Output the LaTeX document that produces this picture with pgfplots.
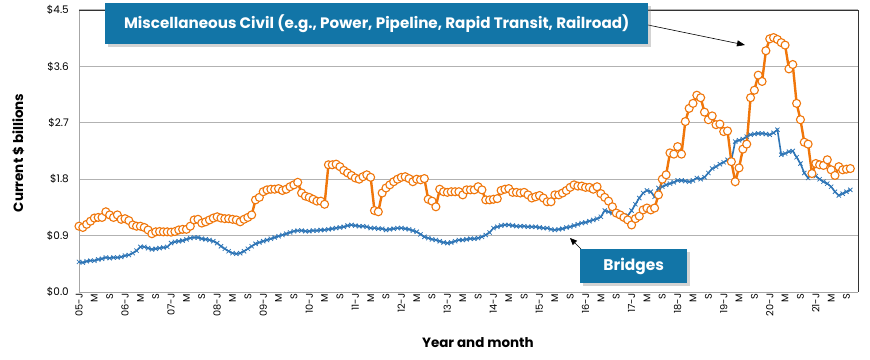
\documentclass[border=0pt]{standalone}
\usepackage{fontspec}
\setmainfont{Poppins}
\usepackage{pgfplots}
\pgfplotsset{compat=1.18}
\usepackage{pgfplotstable}
\usetikzlibrary{arrows.meta,shadows}
\definecolor{calloutblue}{RGB}{18,117,167}
\definecolor{orangeC}{RGB}{240,118,10}
\definecolor{blueC}{RGB}{46,117,182}

\pgfplotstableread{
m b o
0 0.48 1.05
1 0.47 1.03
2 0.49 1.08
3 0.50 1.13
4 0.50 1.18
5 0.52 1.19
6 0.53 1.19
7 0.55 1.28
8 0.54 1.23
9 0.55 1.19
10 0.55 1.23
11 0.56 1.16
12 0.58 1.17
13 0.59 1.14
14 0.62 1.07
15 0.66 1.05
16 0.72 1.05
17 0.72 1.03
18 0.70 0.99
19 0.68 0.93
20 0.69 0.96
21 0.70 0.965
22 0.71 0.96
23 0.72 0.96
24 0.78 0.955
25 0.80 0.965
26 0.81 0.99
27 0.82 1.00
28 0.84 1.00
29 0.86 1.05
30 0.87 1.15
31 0.87 1.16
32 0.85 1.10
33 0.84 1.12
34 0.83 1.15
35 0.81 1.18
36 0.78 1.20
37 0.73 1.18
38 0.69 1.17
39 0.65 1.17
40 0.62 1.16
41 0.61 1.15
42 0.62 1.12
43 0.65 1.16
44 0.69 1.19
45 0.73 1.23
46 0.77 1.47
47 0.79 1.51
48 0.81 1.60
49 0.83 1.63
50 0.85 1.64
51 0.87 1.64
52 0.89 1.65
53 0.91 1.62
54 0.93 1.64
55 0.95 1.68
56 0.97 1.71
57 0.98 1.75
58 0.98 1.58
59 0.97 1.53
60 0.97 1.51
61 0.98 1.48
62 0.98 1.45
63 0.99 1.45
64 0.99 1.40
65 1.00 2.03
66 1.01 2.03
67 1.02 2.04
68 1.03 2.00
69 1.04 1.94
70 1.06 1.90
71 1.07 1.86
72 1.06 1.82
73 1.05 1.80
74 1.05 1.84
75 1.04 1.87
76 1.02 1.83
77 1.02 1.30
78 1.01 1.28
79 1.01 1.58
80 0.99 1.66
81 1.00 1.71
82 1.01 1.76
83 1.02 1.80
84 1.02 1.83
85 1.01 1.84
86 1.00 1.81
87 0.98 1.76
88 0.96 1.80
89 0.92 1.79
90 0.88 1.81
91 0.86 1.48
92 0.84 1.45
93 0.83 1.36
94 0.81 1.64
95 0.79 1.60
96 0.78 1.59
97 0.79 1.60
98 0.81 1.60
99 0.83 1.60
100 0.83 1.55
101 0.84 1.63
102 0.85 1.63
103 0.85 1.63
104 0.86 1.68
105 0.88 1.63
106 0.91 1.47
107 0.95 1.47
108 1.02 1.48
109 1.04 1.49
110 1.06 1.62
111 1.07 1.64
112 1.07 1.65
113 1.06 1.59
114 1.05 1.59
115 1.05 1.58
116 1.05 1.59
117 1.04 1.55
118 1.04 1.50
119 1.04 1.52
120 1.03 1.54
121 1.02 1.50
122 1.02 1.44
123 1.00 1.44
124 0.99 1.55
125 1.00 1.55
126 1.01 1.58
127 1.03 1.62
128 1.04 1.67
129 1.06 1.71
130 1.08 1.69
131 1.10 1.69
132 1.11 1.67
133 1.13 1.67
134 1.15 1.64
135 1.17 1.68
136 1.20 1.57
137 1.30 1.51
138 1.28 1.45
139 1.26 1.36
140 1.24 1.26
141 1.22 1.23
142 1.21 1.19
143 1.22 1.15
144 1.30 1.07
145 1.40 1.17
146 1.50 1.21
147 1.58 1.31
148 1.62 1.34
149 1.60 1.31
150 1.52 1.34
151 1.66 1.55
152 1.68 1.80
153 1.71 1.87
154 1.73 2.22
155 1.75 2.20
156 1.78 2.32
157 1.78 2.20
158 1.77 2.72
159 1.76 2.93
160 1.78 3.01
161 1.82 3.14
162 1.80 3.10
163 1.83 2.87
164 1.90 2.75
165 1.97 2.81
166 2.00 2.67
167 2.04 2.68
168 2.07 2.56
169 2.11 2.57
170 2.10 2.08
171 2.40 1.76
172 2.42 1.98
173 2.44 2.28
174 2.48 2.36
175 2.51 3.10
176 2.52 3.22
177 2.53 3.46
178 2.53 3.36
179 2.52 3.85
180 2.51 4.04
181 2.54 4.06
182 2.59 4.03
183 2.19 3.98
184 2.21 3.94
185 2.24 3.56
186 2.25 3.63
187 2.15 3.01
188 2.05 2.75
189 1.90 2.39
190 1.82 2.36
191 1.90 1.89
192 1.85 2.05
193 1.80 2.03
194 1.76 2.02
195 1.73 2.11
196 1.68 1.95
197 1.60 1.86
198 1.54 2.00
199 1.57 1.95
200 1.60 1.96
201 1.63 1.97
}\datatable

\begin{document}
\begin{tikzpicture}
\useasboundingbox (-79bp,-68bp) rectangle (791bp,292bp);
\begin{axis}[
  at={(0,0)}, anchor=south west,
  scale only axis, width=779bp, height=282bp,
  xmin=0, xmax=203, ymin=0, ymax=4.5,
  axis x line*=bottom, axis y line*=left,
  axis line style={draw=black!35, line width=0.9bp},
  xtick={0,4,...,200},
  xticklabels={05-J,M,S,06-J,M,S,07-J,M,S,08-J,M,S,09-J,M,S,10-J,M,S,11-J,M,S,12-J,M,S,13-J,M,S,14-J,M,S,15-J,M,S,16-J,M,S,17-J,M,S,18-J,M,S,19-J,M,S,20-J,M,S,21-J,M,S},
  ytick={0,0.9,1.8,2.7,3.6,4.5},
  yticklabels={\$0.0,\$0.9,\$1.8,\$2.7,\$3.6,\$4.5},
  major tick length=0pt,
  ymajorgrids, grid style={draw=black!30, line width=1bp},
  x tick label style={rotate=90, anchor=east, font=\fontsize{9.8}{10}\selectfont, inner sep=1.5bp},
  y tick label style={font=\fontsize{10.5}{12}\selectfont, inner sep=2bp, xshift=-8bp},
  xlabel={Year and month},
  ylabel={Current \$ billions},
  xlabel style={font=\bfseries\fontsize{13.5}{15}\selectfont, at={(axis description cs:0.512,-0.181)}, anchor=center},
  ylabel style={font=\bfseries\fontsize{13.5}{15}\selectfont, at={(axis description cs:-0.078,0.493)}, anchor=center},
  clip=false,
]
\addplot[color=blueC, line width=1.6bp, mark=x, mark size=3bp, mark options={line width=0.8bp}] table[x=m, y=b] {\datatable};
\addplot[color=orangeC, line width=2.4bp, mark=*, mark size=4bp, mark options={fill=white, draw=orangeC, line width=1.1bp}] table[x=m, y=o] {\datatable};
\draw[black!80, line width=0.9bp] (rel axis cs:0,1) -- (rel axis cs:1,1) -- (rel axis cs:1,0);
\end{axis}
% callout 1
\draw[line width=0.6bp, -{Triangle[length=8bp,width=6bp]}] (569bp,267bp) -- (666bp,247bp);
\node[fill=calloutblue, text=white, minimum width=543bp, minimum height=41bp, inner sep=0pt,
      drop shadow={shadow xshift=3bp, shadow yshift=-3bp, opacity=0.35},
      font=\bfseries\fontsize{15.2}{17}\selectfont, anchor=north west] at (26bp,289bp)
  {Miscellaneous Civil (e.g., Power, Pipeline, Rapid Transit, Railroad)};
% callout 2
\draw[line width=0.6bp, -{Triangle[length=7bp,width=6bp]}] (502bp,43bp) -- (491bp,54bp);
\node[fill=calloutblue, text=white, minimum width=107bp, minimum height=34bp, inner sep=0pt,
      drop shadow={shadow xshift=3bp, shadow yshift=-3bp, opacity=0.35},
      font=\bfseries\fontsize{15.5}{17}\selectfont, anchor=north west] at (501bp,43bp)
  {Bridges};
\end{tikzpicture}
\end{document}
